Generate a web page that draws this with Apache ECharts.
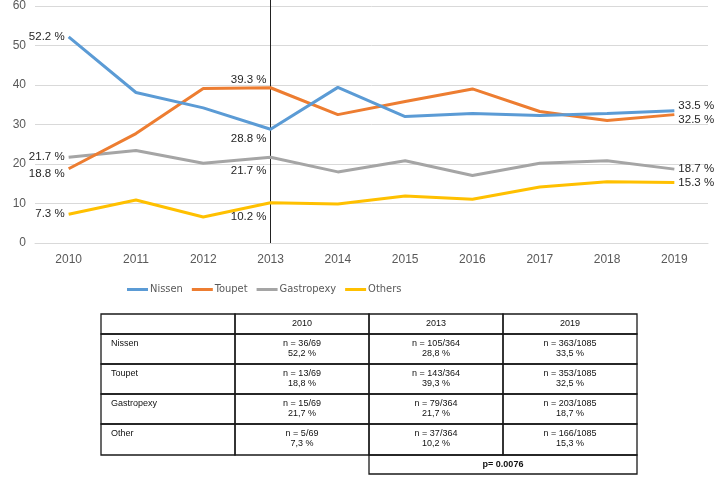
<!DOCTYPE html>
<html>
<head>
<meta charset="utf-8">
<script src="https://cdn.jsdelivr.net/npm/echarts@6/dist/echarts.min.js"></script>
<style>
html,body{margin:0;padding:0;background:#fff;}
#c{width:722px;height:477px;}
</style>
</head>
<body>
<div id="c"></div>
<script>
const years = ['2010','2011','2012','2013','2014','2015','2016','2017','2018','2019'];
const nissen = [52.2, 38.1, 34.2, 28.8, 39.4, 32.0, 32.8, 32.3, 32.8, 33.5];
const toupet = [18.8, 27.7, 39.1, 39.3, 32.5, 35.8, 39.0, 33.3, 31.0, 32.5];
const gastropexy = [21.7, 23.4, 20.2, 21.7, 18.0, 20.8, 17.1, 20.2, 20.8, 18.7];
const others = [7.3, 10.9, 6.6, 10.2, 9.9, 11.9, 11.1, 14.2, 15.5, 15.3];
const yTicks = [0, 10, 20, 30, 40, 50, 60];

const tableHeader = ['', '2010', '2013', '2019'];
const tableRows = ['Nissen', 'Toupet', 'Gastropexy', 'Other'];
const tableN = [
  ['n = 36/69', 'n = 105/364', 'n = 363/1085'],
  ['n = 13/69', 'n = 143/364', 'n = 353/1085'],
  ['n = 15/69', 'n = 79/364', 'n = 203/1085'],
  ['n = 5/69', 'n = 37/364', 'n = 166/1085']
];
const tablePct = [
  ['52,2 %', '28,8 %', '33,5 %'],
  ['18,8 %', '39,3 %', '32,5 %'],
  ['21,7 %', '21,7 %', '18,7 %'],
  ['7,3 %', '10,2 %', '15,3 %']
];
const pValue = 'p= 0.0076';

// label placement per series for first, 2013, last
const labelCfg = {
  Nissen: {0: ['left', [0, 0]], 3: ['left', [0, 10]], 9: ['right', [0, -5]]},
  Toupet: {0: ['left', [0, 5]], 3: ['left', [0, -8]], 9: ['right', [0, 5]]},
  Gastropexy: {0: ['left', [0, 0]], 3: ['left', [0, 14]], 9: ['right', [0, 0]]},
  Others: {0: ['left', [0, 0]], 3: ['left', [0, 14]], 9: ['right', [0, 0]]}
};

function buildData(name, vals) {
  return vals.map((v, i) => {
    const c = labelCfg[name][i];
    if (!c) return v;
    return {
      value: v,
      label: {
        show: true, position: c[0], offset: c[1], distance: 4,
        formatter: (p) => p.value.toFixed(1) + ' %',
        color: '#262626', fontSize: 11.5, fontFamily: 'Liberation Sans, Arial, sans-serif'
      }
    };
  });
}

const colors = {Nissen: '#5B9BD5', Toupet: '#ED7D31', Gastropexy: '#A5A5A5', Others: '#FFC000'};
const seriesDefs = [['Nissen', nissen], ['Toupet', toupet], ['Gastropexy', gastropexy], ['Others', others]];

const series = seriesDefs.map(([name, vals], idx) => ({
  name: name,
  type: 'line',
  data: buildData(name, vals),
  symbol: 'circle',
  symbolSize: 0,
  showSymbol: true,
  itemStyle: {color: colors[name]},
  lineStyle: {color: colors[name], width: 3},
  z: 10 - idx,
  markLine: idx === 0 ? {
    silent: true, symbol: 'none', label: {show: false},
    lineStyle: {color: '#222', width: 1, type: 'solid'},
    data: [[{coord: ['2013', 60], y: 0}, {coord: ['2013', 0]}]]
  } : undefined
}));

// Table graphics
const colX = [101, 235, 369, 503, 637];
const rowY = [314, 334, 364, 394, 424, 455];
const pRow = [455, 474];
const tf = 'Liberation Sans, Arial, sans-serif';
const border = {stroke: '#1a1a1a', lineWidth: 1.3, fill: 'none'};
const graphic = [];
for (let r = 0; r < rowY.length - 1; r++) {
  for (let c = 0; c < colX.length - 1; c++) {
    graphic.push({type: 'rect', shape: {x: colX[c], y: rowY[r], width: colX[c+1]-colX[c], height: rowY[r+1]-rowY[r]}, style: border, silent: true});
  }
}
graphic.push({type: 'rect', shape: {x: colX[2], y: pRow[0], width: colX[4]-colX[2], height: pRow[1]-pRow[0]}, style: border, silent: true});
for (let c = 1; c < tableHeader.length; c++) {
  graphic.push({type: 'text', x: (colX[c]+colX[c+1])/2, y: (rowY[0]+rowY[1])/2,
    style: {text: tableHeader[c], font: '9px ' + tf, fill: '#111', align: 'center', verticalAlign: 'middle'}, silent: true});
}
for (let r = 0; r < tableRows.length; r++) {
  const top = rowY[r+1];
  graphic.push({type: 'text', x: colX[0] + 10, y: top + 10,
    style: {text: tableRows[r], font: '9px ' + tf, fill: '#111', align: 'left', verticalAlign: 'middle'}, silent: true});
  for (let c = 0; c < 3; c++) {
    const cx = (colX[c+1]+colX[c+2])/2;
    graphic.push({type: 'text', x: cx, y: top + 10,
      style: {text: tableN[r][c], font: '9px ' + tf, fill: '#111', align: 'center', verticalAlign: 'middle'}, silent: true});
    graphic.push({type: 'text', x: cx, y: top + 20,
      style: {text: tablePct[r][c], font: '9px ' + tf, fill: '#111', align: 'center', verticalAlign: 'middle'}, silent: true});
  }
}
graphic.push({type: 'text', x: (colX[2]+colX[4])/2, y: (pRow[0]+pRow[1])/2,
  style: {text: pValue, font: 'bold 9px ' + tf, fill: '#111', align: 'center', verticalAlign: 'middle'}, silent: true});

const chart = echarts.init(document.getElementById('c'));
chart.setOption({
  animation: false,
  backgroundColor: '#fff',
  grid: {left: 35, right: 14, top: 6, bottom: 234, containLabel: false},
  legend: {
    data: ['Nissen', 'Toupet', 'Gastropexy', 'Others'],
    left: 122, top: 279, icon: 'rect', itemWidth: 21, itemHeight: 3, itemGap: 9,
    textStyle: {color: '#595959', fontSize: 11, padding: [0, 0, 0, -3], fontFamily: 'DejaVu Sans Condensed, Liberation Sans Narrow, Liberation Sans, sans-serif', fontStretch: 'condensed'}
  },
  xAxis: {
    type: 'category', data: years, boundaryGap: true,
    axisLine: {show: true, lineStyle: {color: '#d9d9d9', width: 1}},
    axisTick: {show: false},
    axisLabel: {color: '#595959', fontSize: 12, margin: 11, fontFamily: 'Liberation Sans, Arial, sans-serif'}
  },
  yAxis: {
    type: 'value', min: yTicks[0], max: yTicks[yTicks.length-1], interval: 10,
    axisLine: {show: false}, axisTick: {show: false},
    splitLine: {lineStyle: {color: '#d9d9d9', width: 1}},
    axisLabel: {color: '#595959', fontSize: 12, margin: 9, fontFamily: 'Liberation Sans, Arial, sans-serif'}
  },
  series: series,
  graphic: graphic
});
</script>
</body>
</html>
